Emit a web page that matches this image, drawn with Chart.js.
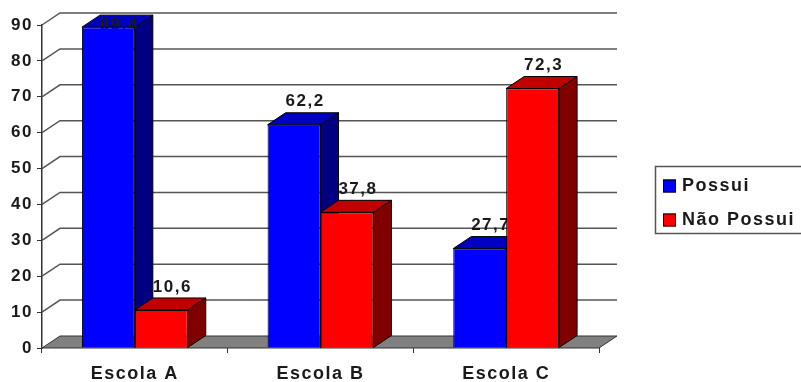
<!DOCTYPE html>
<html>
<head>
<meta charset="utf-8">
<script src="https://cdn.jsdelivr.net/npm/chart.js@4.4.0/dist/chart.umd.min.js"></script>
<style>
  html, body { margin: 0; padding: 0; background: #fff; }
  canvas { display: block; }
</style>
</head>
<body>
<canvas id="chart" width="801" height="382"></canvas>
<script>
// data
const categories = ["Escola A", "Escola B", "Escola C"];
const seriesNames = ["Possui", "Não Possui"];
const possui = [89.4, 62.2, 27.7];
const naoPossui = [10.6, 37.8, 72.3];
const yMax = 90;
const yStep = 10;

const FONT = "'Liberation Sans', Arial, sans-serif";
const TEXT = "#1a1a1a";
const DX = 18; // depth offsets of the fake 3D
const DY = 12;

const faces = [
  { front: "#0000ff", top: "#0000c0", side: "#000080" },
  { front: "#ff0000", top: "#c00000", side: "#800000" },
];

const fmt = (v) => v.toFixed(1).replace(".", ",");

const poly = (ctx, pts, fill, stroke) => {
  ctx.beginPath();
  pts.forEach(([x, y], i) => (i ? ctx.lineTo(x, y) : ctx.moveTo(x, y)));
  ctx.closePath();
  ctx.fillStyle = fill;
  ctx.fill();
  ctx.strokeStyle = stroke;
  ctx.lineWidth = 1;
  ctx.stroke();
};

const depthPlugin = {
  id: "depth3d",
  beforeDraw(chart) {
    chart.ctx.letterSpacing = "1.5px";
  },
  beforeDatasetsDraw(chart) {
    const { ctx, chartArea: a } = chart;
    const y = chart.scales.y;
    ctx.save();

    // back wall gridlines
    ctx.strokeStyle = "#555";
    ctx.lineWidth = 1.5;
    for (let v = yStep; v <= yMax; v += yStep) {
      const py = y.getPixelForValue(v);
      ctx.beginPath();
      ctx.moveTo(a.left, py);
      ctx.lineTo(a.left + DX, py - DY);
      ctx.lineTo(a.right + DX, py - DY);
      ctx.stroke();
    }

    // floor
    const y0 = y.getPixelForValue(0);
    poly(ctx, [[a.left, y0], [a.left + DX, y0 - DY], [a.right + DX, y0 - DY], [a.right, y0]], "#808080", "#333");

    // top and side faces, fronts are drawn by chart.js afterwards
    chart.data.datasets.forEach((ds, i) => {
      const c = faces[i];
      chart.getDatasetMeta(i).data.forEach((bar) => {
        const l = bar.x - bar.width / 2;
        const r = bar.x + bar.width / 2;
        const t = bar.y;
        const b = bar.base;
        poly(ctx, [[l, t], [l + DX, t - DY], [r + DX, t - DY], [r, t]], c.top, "#000");
        poly(ctx, [[r, t], [r + DX, t - DY], [r + DX, b - DY], [r, b]], c.side, "#000");
      });
    });

    // value labels
    ctx.font = "bold 17px " + FONT;
    ctx.fillStyle = TEXT;
    ctx.textAlign = "center";
    ctx.textBaseline = "middle";
    chart.data.datasets.forEach((ds, i) => {
      chart.getDatasetMeta(i).data.forEach((bar, j) => {
        const ly = Math.max(bar.y - DY - 11, 25);
        ctx.fillText(fmt(ds.data[j]), bar.x + 11, ly);
      });
    });
    ctx.restore();
  },
  afterDraw(chart) {
    const ctx = chart.ctx;
    ctx.save();
    ctx.strokeStyle = "#555";
    ctx.lineWidth = 1.5;
    ctx.strokeRect(655.5, 166.5, 160, 67);
    ctx.font = "bold 18px " + FONT;
    ctx.textAlign = "left";
    ctx.textBaseline = "middle";
    seriesNames.forEach((name, i) => {
      const cy = 186 + i * 34;
      ctx.fillStyle = faces[i].front;
      ctx.fillRect(663, cy - 6.5, 13, 13);
      ctx.strokeStyle = "#000";
      ctx.lineWidth = 1;
      ctx.strokeRect(663.5, cy - 6, 12, 12);
      ctx.fillStyle = TEXT;
      ctx.fillText(name, 682, cy);
    });
    ctx.restore();
  },
};

new Chart(document.getElementById("chart"), {
  type: "bar",
  data: {
    labels: categories,
    datasets: [
      { label: seriesNames[0], data: possui, backgroundColor: faces[0].front },
      { label: seriesNames[1], data: naoPossui, backgroundColor: faces[1].front },
    ].map((d) => ({ ...d, borderColor: "#000", borderWidth: 1, categoryPercentage: 0.57, barPercentage: 1 })),
  },
  options: {
    responsive: false,
    devicePixelRatio: 1,
    animation: false,
    layout: { padding: { left: 2, top: 25, right: 202, bottom: 0 } },
    plugins: { legend: { display: false }, tooltip: { enabled: false } },
    scales: {
      x: {
        afterFit: (s) => { s.height = 34; },
        grid: { display: true, drawOnChartArea: false, drawTicks: true, tickLength: 5, color: "#333", offset: true },
        border: { display: false },
        ticks: { font: { family: FONT, size: 18, weight: "bold" }, color: TEXT, padding: 10, maxRotation: 0 },
      },
      y: {
        min: 0,
        max: yMax,
        afterFit: (s) => { s.width = 40; },
        grid: { drawOnChartArea: false, drawTicks: true, tickLength: 5, color: "#333" },
        border: { display: true, color: "#333", width: 1.5 },
        ticks: { stepSize: yStep, font: { family: FONT, size: 17, weight: "bold" }, color: TEXT, padding: 4 },
      },
    },
  },
  plugins: [depthPlugin],
});
</script>
</body>
</html>
